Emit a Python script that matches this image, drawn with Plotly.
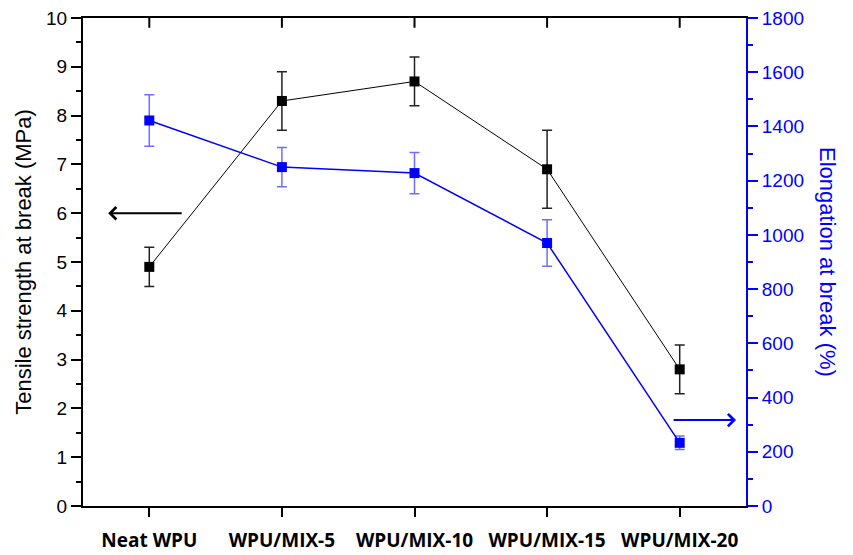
import plotly.graph_objects as go

categories = ["Neat WPU", "WPU/MIX-5", "WPU/MIX-10", "WPU/MIX-15", "WPU/MIX-20"]
tensile = [4.9, 8.3, 8.7, 6.9, 2.8]
tensile_err = [0.4, 0.6, 0.5, 0.8, 0.5]
elongation = [1422, 1250, 1228, 970, 233]
elongation_err = [95, 72, 76, 86, 25]

xs = list(range(len(categories)))

fig = go.Figure()
fig.add_trace(go.Scatter(
    x=xs, y=tensile, mode="lines+markers", name="Tensile",
    line=dict(color="black", width=1),
    marker=dict(symbol="square", size=10, color="black"),
    error_y=dict(type="data", array=tensile_err, color="#222222", thickness=1.5, width=5),
    yaxis="y", showlegend=False,
))
fig.add_trace(go.Scatter(
    x=xs, y=elongation, mode="lines+markers", name="Elongation",
    line=dict(color="#0000ff", width=1.5),
    marker=dict(symbol="square", size=10, color="#0000ff"),
    error_y=dict(type="data", array=elongation_err, color="rgba(60,60,255,0.75)", thickness=1.5, width=5),
    yaxis="y2", showlegend=False,
))

fig.update_layout(
    width=853, height=555,
    margin=dict(l=83, r=107, t=18, b=49),
    paper_bgcolor="white", plot_bgcolor="white",
    font=dict(family="Liberation Sans", size=19, color="black"),
    xaxis=dict(
        range=[-0.5, 4.5], tickmode="array", tickvals=xs, ticktext=categories,
        ticks="outside", ticklen=9, tickwidth=2, tickcolor="black",
        showline=True, linecolor="black", linewidth=2, mirror=True,
        showgrid=False, zeroline=False, automargin=False,
        tickfont=dict(family="Open Sans", size=19, color="black", weight="bold"),
        ticklabelstandoff=7,
    ),
    yaxis=dict(
        range=[0, 10], dtick=1, ticks="outside", ticklen=10, tickwidth=2, tickcolor="black",
        showline=True, linecolor="black", linewidth=2,
        showgrid=False, zeroline=False, automargin=False,
        tickfont=dict(family="Liberation Sans", size=19, color="black"),
        minor=dict(dtick=0.5, ticks="outside", ticklen=5, tickwidth=2, tickcolor="black"),
        title=dict(text="Tensile strength at break (MPa)", font=dict(family="Liberation Sans", size=22, color="black"), standoff=8),
    ),
    yaxis2=dict(
        range=[0, 1800], dtick=200, overlaying="y", side="right",
        ticks="outside", ticklen=10, tickwidth=2, tickcolor="#0000ff",
        showline=True, linecolor="#0000ff", linewidth=2,
        showgrid=False, zeroline=False, automargin=False,
        tickfont=dict(family="Liberation Sans", color="#0000ff", size=19),
        minor=dict(dtick=100, ticks="outside", ticklen=5, tickwidth=2, tickcolor="#0000ff"),
    ),
)

fig.add_annotation(
    text="Elongation at break (%)", textangle=90, xref="paper", yref="paper",
    x=1.0, y=0.5, xanchor="center", yanchor="middle", xshift=82, showarrow=False,
    font=dict(family="Liberation Sans", size=22, color="#0000ff"),
)
# top-edge inward ticks at categories
for xv in xs:
    fig.add_shape(type="line", xref="x", yref="paper", x0=xv, x1=xv, y0=1.0, y1=0.98,
                  line=dict(color="black", width=2))

fig.add_annotation(
    x=0.038, y=0.600, xref="paper", yref="paper", ax=75, ay=0, text="",
    showarrow=True, arrowhead=4, arrowsize=1.2, arrowwidth=2, arrowcolor="black",
)
fig.add_annotation(
    x=0.985, y=0.176, xref="paper", yref="paper", ax=-64, ay=0, text="",
    showarrow=True, arrowhead=4, arrowsize=1.2, arrowwidth=2, arrowcolor="#0000ff",
)

fig.write_html("out.html")
